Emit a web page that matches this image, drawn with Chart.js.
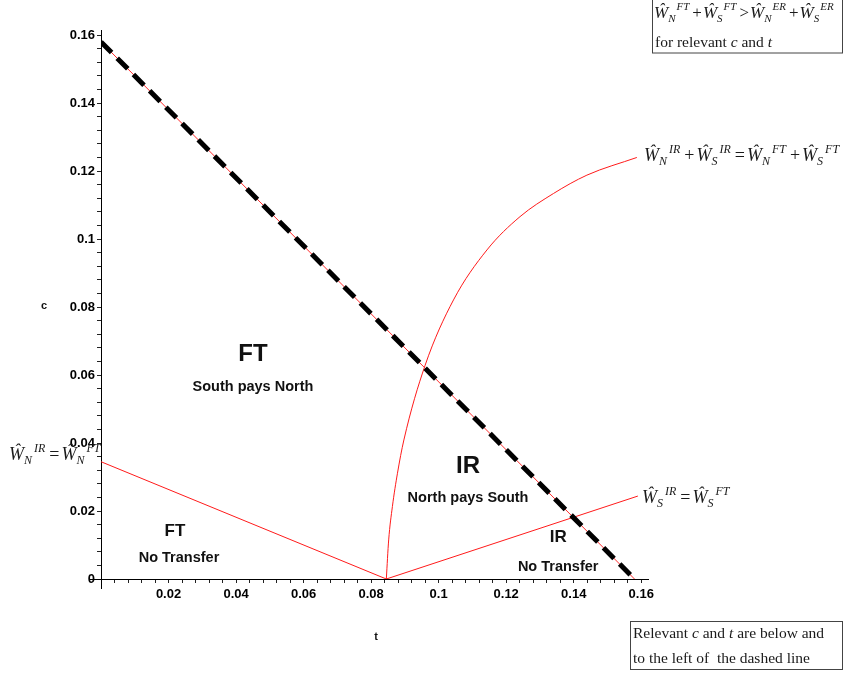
<!DOCTYPE html>
<html>
<head>
<meta charset="utf-8">
<script src="https://cdn.jsdelivr.net/npm/chart.js@4.4.1/dist/chart.umd.min.js"></script>
<style>
  html, body { margin: 0; padding: 0; background: #fff; }
</style>
</head>
<body>
<canvas id="regionsChart" width="843" height="673"></canvas>
<script>
// datos (t en x, c en y)
const boundaryT = [0, 0.158];
const boundaryC = [0.158, 0];

const northT = [0, 0.0845];
const northC = [0.0345, 0];

const southT = [0.0845, 0.159];
const southC = [0, 0.0244];

const totalT = [0.0845, 0.0852, 0.0863, 0.0878, 0.0897, 0.0960, 0.1044, 0.1143, 0.1241, 0.1340, 0.1439, 0.1587];
const totalC = [0, 0.0115, 0.0213, 0.0311, 0.0409, 0.0629, 0.0821, 0.0968, 0.1066, 0.1134, 0.1188, 0.1240];

const majorTicks = [0, 0.02, 0.04, 0.06, 0.08, 0.1, 0.12, 0.14, 0.16];
const tickLabels = ['0', '0.02', '0.04', '0.06', '0.08', '0.1', '0.12', '0.14', '0.16'];
const minorStep = 0.004;

const toPoints = (xs, ys) => xs.map((x, i) => ({ x: x, y: ys[i] }));

const minorTicks = [];
for (let v = 0; v <= 0.16 + 1e-9; v += minorStep) minorTicks.push(+v.toFixed(4));

function labelFor(value, hideZero) {
  const i = majorTicks.findIndex(m => Math.abs(m - value) < 1e-6);
  if (i < 0) return '';
  if (hideZero && i === 0) return '';
  return tickLabels[i];
}

// textos de las regiones
const regionLabels = [
  { text: 'FT', t: 0.045, c: 0.0662, size: 24 },
  { text: 'South pays North', t: 0.045, c: 0.0565, size: 14.5 },
  { text: 'IR', t: 0.1087, c: 0.0331, size: 24 },
  { text: 'North pays South', t: 0.1087, c: 0.0238, size: 14.5 },
  { text: 'FT', t: 0.0219, c: 0.0141, size: 17 },
  { text: 'No Transfer', t: 0.0231, c: 0.0062, size: 14.5 },
  { text: 'IR', t: 0.1354, c: 0.0122, size: 17 },
  { text: 'No Transfer', t: 0.1354, c: 0.0035, size: 14.5 }
];

const eqTotal = [['Ŵ', 'N', 'IR'], '+', ['Ŵ', 'S', 'IR'], '=', ['Ŵ', 'N', 'FT'], '+', ['Ŵ', 'S', 'FT']];
const eqSouth = [['Ŵ', 'S', 'IR'], '=', ['Ŵ', 'S', 'FT']];
const eqNorth = [['Ŵ', 'N', 'IR'], '=', ['Ŵ', 'N', 'FT']];
const eqWelfare = [['Ŵ', 'N', 'FT'], '+', ['Ŵ', 'S', 'FT'], '>', ['Ŵ', 'N', 'ER'], '+', ['Ŵ', 'S', 'ER']];

const SERIF = '"Liberation Serif", "Times New Roman", serif';

function drawMath(ctx, x, y, parts, size, gap) {
  const small = Math.round(size * 0.64);
  const g = gap || [4, 2, 2];
  parts.forEach(p => {
    if (typeof p === 'string') {
      ctx.font = size + 'px ' + SERIF;
      x += g[0];
      ctx.fillText(p, x, y);
      x += ctx.measureText(p).width + g[1];
    } else {
      ctx.font = 'italic ' + size + 'px ' + SERIF;
      ctx.fillText(p[0], x, y);
      x += ctx.measureText(p[0]).width;
      ctx.font = 'italic ' + small + 'px ' + SERIF;
      ctx.fillText(p[1], x, y + 4);
      const w1 = ctx.measureText(p[1]).width + g[2];
      ctx.fillText(p[2], x + w1, y - 8);
      x += w1 + ctx.measureText(p[2]).width;
    }
  });
}

function drawRich(ctx, x, y, parts, size) {
  parts.forEach(p => {
    ctx.font = (p[1] ? 'italic ' : '') + size + 'px ' + SERIF;
    ctx.fillText(p[0], x, y);
    x += ctx.measureText(p[0]).width;
  });
}

const annotations = {
  id: 'annotations',
  afterDraw(chart) {
    const ctx = chart.ctx;
    const xs = chart.scales.x, ys = chart.scales.y;
    ctx.save();

    // ejes que se cruzan en el origen
    ctx.strokeStyle = '#000';
    ctx.lineWidth = 1;
    ctx.beginPath();
    ctx.moveTo(xs.left + 0.5, ys.bottom);
    ctx.lineTo(xs.left + 0.5, ys.bottom + 10);
    ctx.moveTo(xs.left - 11, ys.bottom + 0.5);
    ctx.lineTo(xs.left, ys.bottom + 0.5);
    ctx.stroke();

    // etiquetas de regiones
    ctx.fillStyle = '#111';
    ctx.textAlign = 'center';
    ctx.textBaseline = 'middle';
    regionLabels.forEach(l => {
      ctx.font = 'bold ' + l.size + 'px "Liberation Sans", Arial, sans-serif';
      ctx.fillText(l.text, xs.getPixelForValue(l.t), ys.getPixelForValue(l.c));
    });

    // titulos de ejes
    ctx.font = 'bold 11px "Liberation Sans", Arial, sans-serif';
    ctx.fillText('c', 44, 306);
    ctx.fillText('t', 376, 637);

    // ecuaciones
    ctx.textAlign = 'left';
    ctx.textBaseline = 'alphabetic';
    ctx.fillStyle = '#1a1a1a';
    drawMath(ctx, 644, 161, eqTotal, 18);
    drawMath(ctx, 642, 503, eqSouth, 18);
    drawMath(ctx, 9, 460, eqNorth, 18);

    // recuadro superior
    ctx.fillStyle = '#fff';
    ctx.fillRect(652, 0, 191, 53);
    ctx.strokeStyle = '#444';
    ctx.strokeRect(652.5, -1.5, 190, 54.5);
    ctx.fillStyle = '#1a1a1a';
    drawMath(ctx, 654, 18, eqWelfare, 17, [3, 1, 1]);
    drawRich(ctx, 655, 47, [['for relevant ', false], ['c', true], [' and ', false], ['t', true]], 15.5);

    // recuadro inferior
    ctx.strokeRect(630.5, 621.5, 212, 48);
    drawRich(ctx, 633, 638, [['Relevant ', false], ['c', true], [' and ', false], ['t', true], [' are below and', false]], 15.5);
    drawRich(ctx, 633, 663, [['to the left of  the dashed line', false]], 15.5);

    ctx.restore();
  }
};

const axisFont = { family: '"Liberation Sans", Arial, sans-serif', size: 13, weight: 'bold' };

const ctx = document.getElementById('regionsChart').getContext('2d');
const regionsChart = new Chart(ctx, {
  type: 'scatter',
  data: {
    datasets: [
      {
        label: 'Relevant boundary',
        data: toPoints(boundaryT, boundaryC),
        showLine: true,
        borderColor: '#000',
        borderWidth: 5,
        borderDash: [15, 8],
        borderCapStyle: 'butt',
        pointRadius: 0
      },
      {
        label: 'FT = ER',
        data: toPoints(boundaryT, boundaryC),
        showLine: true,
        borderColor: '#ff2a2a',
        borderWidth: 1,
        pointRadius: 0
      },
      {
        label: 'W_N IR = W_N FT',
        data: toPoints(northT, northC),
        showLine: true,
        borderColor: '#ff1a1a',
        borderWidth: 1,
        pointRadius: 0
      },
      {
        label: 'W_S IR = W_S FT',
        data: toPoints(southT, southC),
        showLine: true,
        borderColor: '#ff1a1a',
        borderWidth: 1,
        pointRadius: 0
      },
      {
        label: 'Total IR = Total FT',
        data: toPoints(totalT, totalC),
        showLine: true,
        borderColor: '#ff1a1a',
        borderWidth: 1,
        cubicInterpolationMode: 'monotone',
        pointRadius: 0
      }
    ]
  },
  options: {
    responsive: false,
    animation: false,
    layout: { padding: { left: 0, top: 30, right: 195, bottom: 64 } },
    plugins: {
      legend: { display: false },
      tooltip: { enabled: false }
    },
    scales: {
      x: {
        type: 'linear',
        min: 0,
        max: 0.162,
        afterBuildTicks: s => { s.ticks = minorTicks.map(v => ({ value: v })); },
        afterFit: s => { s.height = 30; },
        border: { display: true, color: '#000', width: 1 },
        grid: { display: true, drawOnChartArea: false, drawTicks: true, tickLength: 4, color: '#222' },
        ticks: {
          autoSkip: false,
          maxRotation: 0,
          padding: 4,
          color: '#000',
          font: axisFont,
          callback: v => labelFor(v, true)
        }
      },
      y: {
        type: 'linear',
        min: 0,
        max: 0.1615,
        afterBuildTicks: s => { s.ticks = minorTicks.map(v => ({ value: v })); },
        afterFit: s => { s.width = 101; },
        border: { display: true, color: '#000', width: 1 },
        grid: { display: true, drawOnChartArea: false, drawTicks: true, tickLength: 4, color: '#222' },
        ticks: {
          autoSkip: false,
          padding: 2,
          color: '#000',
          font: axisFont,
          callback: v => labelFor(v, false)
        }
      }
    }
  },
  plugins: [annotations]
});
</script>
</body>
</html>
